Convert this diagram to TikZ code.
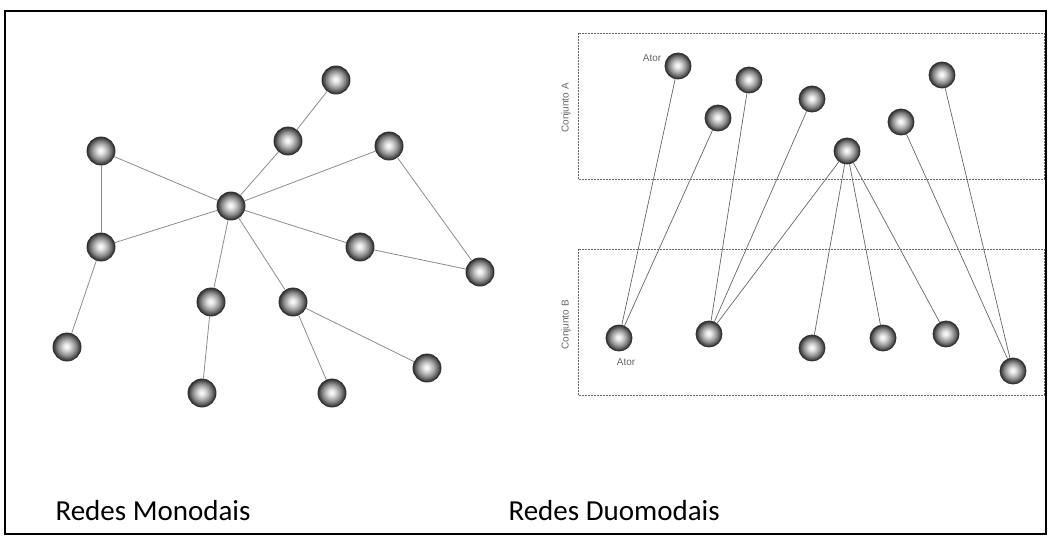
\documentclass[tikz,border=0pt]{standalone}
\usepackage{fontspec}
\setmainfont{Carlito}
\newfontfamily\rotfont{Liberation Sans}

\pgfdeclareradialshading{bolha}{\pgfpoint{-1bp}{1bp}}{%
  color(0bp)=(white); color(6bp)=(black!12); color(16bp)=(black!45);
  color(22bp)=(black!70); color(25bp)=(black!85); color(50bp)=(black!85)}

\tikzset{
  ator/.style={circle, minimum size=28pt, inner sep=0pt, shading=bolha, draw=black!80, line width=0.9pt},
  atorb/.style={ator, minimum size=26pt},
  lig/.style={draw=black!45, line width=0.8pt},
  ligb/.style={draw=black!60, line width=0.7pt},
  conj/.style={draw=black!60, line width=0.8pt, dash pattern=on 1.6pt off 1.4pt},
  rot/.style={font=\rotfont\fontsize{10}{11}\selectfont, text=black!60},
  titulo/.style={font=\fontsize{29}{32}\selectfont, anchor=base west}
}

\begin{document}
\begin{tikzpicture}[x=1pt, y=-1pt]
  \useasboundingbox (0,0) rectangle (1050,538);
  \draw[line width=1.3pt] (5,11) rectangle (1046,534);

  % rede monodal
  \node[ator] (c) at (231,206) {};
  \node[ator] (m1) at (336,80) {};
  \node[ator] (m2) at (288,141) {};
  \node[ator] (m3) at (389,146) {};
  \node[ator] (m4) at (101,151) {};
  \node[ator] (m5) at (101,247) {};
  \node[ator] (m6) at (360,247) {};
  \node[ator] (m7) at (480,272) {};
  \node[ator] (m8) at (211,302) {};
  \node[ator] (m9) at (293,302) {};
  \node[ator] (m10) at (67,347) {};
  \node[ator] (m11) at (427,368) {};
  \node[ator] (m12) at (202,393) {};
  \node[ator] (m13) at (332,393) {};

  \draw[lig] (m1) -- (m2);
  \draw[lig] (m2) -- (c);
  \draw[lig] (m4) -- (c);
  \draw[lig] (m4) -- (m5);
  \draw[lig] (m5) -- (c);
  \draw[lig] (m5) -- (m10);
  \draw[lig] (c) -- (m3);
  \draw[lig] (m3) -- (m7);
  \draw[lig] (c) -- (m6);
  \draw[lig] (m6) -- (m7);
  \draw[lig] (c) -- (m8);
  \draw[lig] (c) -- (m9);
  \draw[lig] (m8) -- (m12);
  \draw[lig] (m9) -- (m13);
  \draw[lig] (m9) -- (m11);

  % rede duomodal
  \draw[conj] (578,33) rectangle (1044,179);
  \draw[conj] (578,249) rectangle (1044,395);
  \node[rot, rotate=90] (conja) at (566,108) {Conjunto A};
  \node[rot, rotate=90] (conjb) at (566,325) {Conjunto B};

  \node[atorb] (a1) at (678,66) {};
  \node[atorb] (a2) at (749,80) {};
  \node[atorb] (a3) at (718,118) {};
  \node[atorb] (a4) at (812,99) {};
  \node[atorb] (a5) at (847,151) {};
  \node[atorb] (a6) at (901,122) {};
  \node[atorb] (a7) at (942,75) {};

  \node[atorb] (b1) at (619,338) {};
  \node[atorb] (b2) at (709,334) {};
  \node[atorb] (b3) at (812,348) {};
  \node[atorb] (b4) at (883,338) {};
  \node[atorb] (b5) at (946,334) {};
  \node[atorb] (b6) at (1013,371) {};

  \node[rot] (ta) at (652,58) {Ator};
  \node[rot] (tb) at (626,362) {Ator};

  \draw[ligb] (a1) -- (b1);
  \draw[ligb] (a3) -- (b1);
  \draw[ligb] (a2) -- (b2);
  \draw[ligb] (a4) -- (b2);
  \draw[ligb] (a5) -- (b2);
  \draw[ligb] (a5) -- (b3);
  \draw[ligb] (a5) -- (b4);
  \draw[ligb] (a5) -- (b5);
  \draw[ligb] (a6) -- (b6);
  \draw[ligb] (a7) -- (b6);

  \node[titulo] (mono) at (52,520) {Redes Monodais};
  \node[titulo] (duo) at (505,520) {Redes Duomodais};
\end{tikzpicture}
\end{document}
